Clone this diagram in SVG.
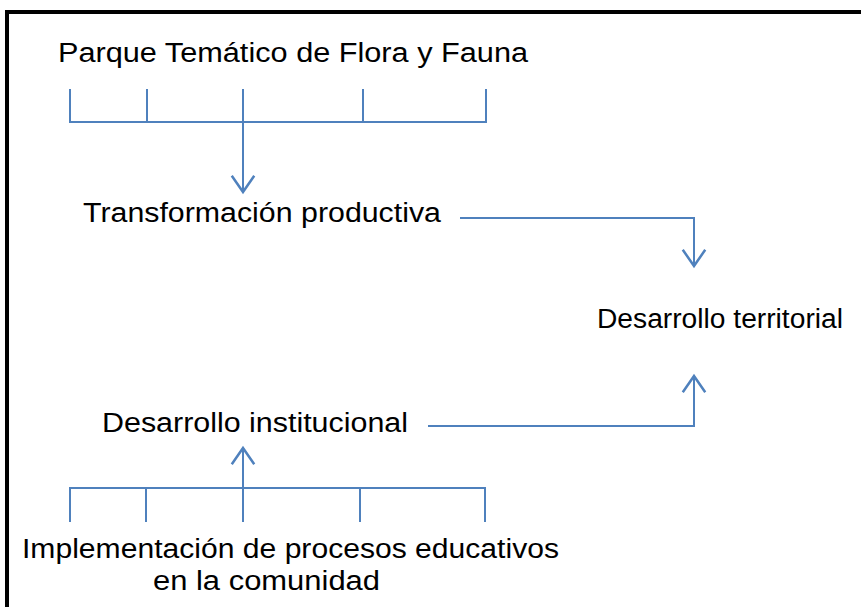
<svg xmlns="http://www.w3.org/2000/svg" width="861" height="607" viewBox="0 0 861 607">
<style>
.t{font-family:"Liberation Sans",Arial,sans-serif;font-size:27px;fill:#000}
.c{fill:none;stroke:#4F81BD;stroke-width:2}
</style>
<defs>
<marker id="ah" markerUnits="userSpaceOnUse" markerWidth="30" markerHeight="30" refX="0" refY="0" viewBox="-16 -12 20 24" orient="auto" overflow="visible">
<path d="M-13,-9 L0,0 L-13,9" fill="none" stroke="#4F81BD" stroke-width="2"/>
</marker>
</defs>
<rect width="861" height="607" fill="#fff"/>
<rect x="7" y="12" width="900" height="700" fill="none" stroke="#000" stroke-width="4"/>
<g id="connectors">
<path class="c" d="M70,89 V122 H486 V89 M147,89 V122 M363,89 V122"/>
<path class="c" d="M243,89 V192" marker-end="url(#ah)"/>
<path class="c" d="M460,218 H694 V266" marker-end="url(#ah)"/>
<path class="c" d="M428,426 H694 V376" marker-end="url(#ah)"/>
<path class="c" d="M70,522 V488 H485 V522 M146,488 V522 M360,488 V522"/>
<path class="c" d="M243,522 V448" marker-end="url(#ah)"/>
</g>
<g id="n1"><text class="t" x="58" y="62" textLength="470" lengthAdjust="spacingAndGlyphs">Parque Temático de Flora y Fauna</text></g>
<g id="n2"><text class="t" x="83" y="222" textLength="358" lengthAdjust="spacingAndGlyphs">Transformación productiva</text></g>
<g id="n3"><text class="t" x="597" y="328" textLength="246" lengthAdjust="spacingAndGlyphs">Desarrollo territorial</text></g>
<g id="n4"><text class="t" x="102" y="432" textLength="306" lengthAdjust="spacingAndGlyphs">Desarrollo institucional</text></g>
<g id="n5"><text class="t" x="22" y="558" textLength="537" lengthAdjust="spacingAndGlyphs">Implementación de procesos educativos</text><text class="t" x="153" y="590" textLength="227" lengthAdjust="spacingAndGlyphs">en la comunidad</text></g>
</svg>
